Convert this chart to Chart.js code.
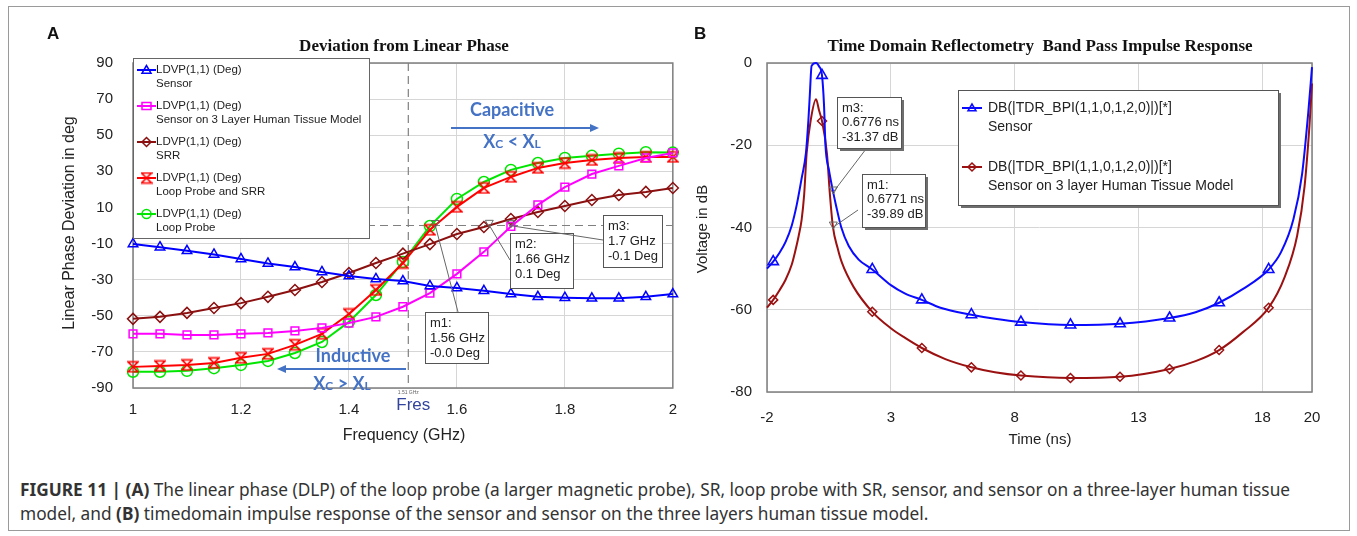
<!DOCTYPE html>
<html>
<head>
<meta charset="utf-8">
<title>Figure 11</title>
<script src="https://cdn.jsdelivr.net/npm/chart.js@4.4.1/dist/chart.umd.min.js"></script>
<style>
  body { margin: 0; background: #fff; font-family: "Liberation Sans", Arial, sans-serif; }
  #frame { position: absolute; left: 8px; top: 6px; width: 1340px; height: 523px; border: 1px solid #9a9a9a; }
  .panel { position: absolute; font: bold 17px "Liberation Sans", Arial, sans-serif; color: #111; }
  .wrap { position: absolute; top: 0; }
  #caption { position: absolute; left: 20px; top: 478px; font-family: "Noto Sans", sans-serif; font-size: 17.3px; line-height: 24px; color: #333; white-space: nowrap; }
</style>
</head>
<body>
<div id="frame"></div>
<div class="wrap" style="left:0px"><canvas id="chartA" width="690" height="450"></canvas></div>
<div class="wrap" style="left:690px"><canvas id="chartB" width="667" height="450"></canvas></div>
<div class="panel" style="left:47px;top:24px">A</div>
<div class="panel" style="left:694px;top:24px">B</div>
<div id="caption"><b>FIGURE 11 | (A)</b> The linear phase (DLP) of the loop probe (a larger magnetic probe), SR, loop probe with SR, sensor, and sensor on a three-layer human tissue<br>model, and <b>(B)</b> timedomain impulse response of the sensor and sensor on the three layers human tissue model.</div>

<script>
// ---------- panel A: deviation from linear phase ----------
var freqGHz = [1.00, 1.05, 1.10, 1.15, 1.20, 1.25, 1.30, 1.35, 1.40, 1.45, 1.50,
               1.55, 1.60, 1.65, 1.70, 1.75, 1.80, 1.85, 1.90, 1.95, 2.00];
var phaseSensor = [-10.2, -12, -14, -16, -18.5, -21, -23, -25.7, -28, -29.6, -30.8,
                   -33.5, -34.6, -36.2, -37.9, -39.5, -40, -40.3, -40.3, -39.5, -38];
var phaseSensorTissue = [-60, -60, -60.6, -60.6, -60, -59.5, -58.4, -56.7, -54, -50.6, -45,
                         -37.4, -26.8, -14.6, -0.5, 11.4, 21.3, 28.5, 33, 37.4, 40.2];
var phaseSrr = [-51.7, -50.6, -48.4, -45.7, -43, -39.5, -35.7, -31.3, -26.3, -20.8, -15.6,
                -10.3, -4.7, -0.8, 3.6, 7.5, 10.8, 14.1, 16.9, 18.6, 20.8];
var phaseLoopSrr = [-78.3, -77.8, -77.2, -76.1, -73.3, -71.1, -66.1, -60, -49, -35.7, -20.8,
                    -2.4, 10.3, 20.8, 26.9, 31.9, 34.6, 36.3, 37.4, 38, 38];
var phaseLoop = [-81, -81, -80.5, -79, -77.2, -75, -70.6, -64.5, -53.4, -38.5, -20.2,
                 -0.3, 14.7, 24.1, 30.8, 34.6, 37.4, 38.6, 39.8, 40.6, 40.4];
var freqTicks = [1, 1.2, 1.4, 1.6, 1.8, 2];
var phaseTicks = [-90, -70, -50, -30, -10, 10, 30, 50, 70, 90];
var fresGHz = 1.51;
var markerFreqA = [1.56, 1.66, 1.7];
var markerPhaseA = [0, 0.1, -0.1];
var markerTextA = [['m1:', '1.56 GHz', '-0.0 Deg'], ['m2:', '1.66 GHz', '0.1 Deg'], ['m3:', '1.7 GHz', '-0.1 Deg']];
var seriesNamesA = ['Sensor', 'Sensor on 3 Layer Human Tissue Model', 'SRR', 'Loop Probe and SRR', 'Loop Probe'];

// ---------- panel B: TDR band pass impulse response ----------
var sensorTimeNs = [-2, -1.75, -1.5, -1.25, -1, -0.8, -0.6, -0.43, -0.33, -0.27, -0.2, -0.02, 0.1, 0.22,
                    0.3, 0.36, 0.5, 0.65, 0.8, 1, 1.3, 1.7, 2.25, 3, 3.56, 4.25, 5, 6.25, 7.2, 8.25,
                    10.25, 12.25, 14.25, 15.3, 16.25, 17.2, 18.25, 18.75, 19.25, 19.6, 19.85, 20];
var sensorDb = [-50, -48.3, -46.2, -43.5, -39.5, -34.5, -28, -22, -14, -7.6, -0.7, 0, -0.8, -3,
                -10, -20, -26, -30.8, -35, -40, -44.5, -47.8, -50.2, -54, -56, -57.6, -59.5, -61.2, -62.2, -63,
                -63.7, -63.4, -62, -60.6, -58.3, -55, -50.2, -46, -38, -27, -12, -1];
var tissueTimeNs = [-2, -1.75, -1.5, -1.25, -1, -0.87, -0.72, -0.6, -0.5, -0.4, -0.23, -0.02, 0.1, 0.22,
                    0.42, 0.54, 0.66, 0.85, 1.02, 1.5, 2.25, 3, 3.56, 4.25, 5.2, 6.25, 7.2, 8.25,
                    10.25, 12.25, 14.25, 15.3, 16.25, 17.2, 18.25, 18.9, 19.4, 19.7, 19.9, 20];
var tissueDb = [-59.5, -57.6, -55.3, -52.7, -49, -46, -42, -38, -32, -22, -13.7, -8.8, -11.5, -14.1,
                -22, -32, -39.8, -45, -48.5, -54.5, -60.5, -64.5, -66.8, -69.3, -72, -74, -75.2, -76,
                -76.6, -76.3, -74.4, -72.5, -69.8, -65.5, -59.5, -52, -42, -30, -15, -5];
var markerTimesNs = [-1.75, 0.22, 2.25, 4.25, 6.25, 8.25, 10.25, 12.25, 14.25, 16.25, 18.25];
var timeTicks = [-2, 3, 8, 13, 18, 20];
var dbTicks = [-80, -60, -40, -20, 0];
var markerTimeB = [0.6776, 0.6771];
var markerDbB = [-31.37, -39.89];
var markerTextB = [['m3:', '0.6776 ns', '-31.37 dB'], ['m1:', '0.6771 ns', '-39.89 dB']];
var legendB = ['DB(|TDR_BPI(1,1,0,1,2,0)|)[*]', 'Sensor', 'DB(|TDR_BPI(1,1,0,1,2,0)|)[*]', 'Sensor on 3 layer Human Tissue Model'];

var FONT = '"Liberation Sans", Arial, sans-serif';
Chart.defaults.font.family = FONT;
Chart.defaults.font.size = 15;
Chart.defaults.color = '#222';

function pairs(xs, ys) {
  return xs.map(function (x, i) { return { x: x, y: ys[i] }; });
}

// hourglass marker for the loop probe + SRR curve
var hourglass = (function () {
  var c = document.createElement('canvas');
  c.width = 12; c.height = 13;
  var g = c.getContext('2d');
  g.strokeStyle = '#ff0000';
  g.lineWidth = 1.6;
  g.beginPath();
  g.moveTo(1, 1.5); g.lineTo(11, 1.5); g.lineTo(1, 11.5); g.lineTo(11, 11.5); g.closePath();
  g.stroke();
  return c;
})();

function drawSym(ctx, style, x, y, r, color) {
  ctx.save();
  ctx.strokeStyle = color;
  ctx.lineWidth = 1.5;
  ctx.beginPath();
  if (style === 'triangle') {
    ctx.moveTo(x, y - r); ctx.lineTo(x - r, y + r * 0.7); ctx.lineTo(x + r, y + r * 0.7); ctx.closePath();
  } else if (style === 'rect') {
    ctx.rect(x - r, y - r * 0.8, 2 * r, 1.6 * r);
  } else if (style === 'rectRot') {
    ctx.moveTo(x, y - r); ctx.lineTo(x + r, y); ctx.lineTo(x, y + r); ctx.lineTo(x - r, y); ctx.closePath();
  } else if (style === 'circle') {
    ctx.arc(x, y, r, 0, Math.PI * 2);
  }
  ctx.stroke();
  if (style === 'hourglass') ctx.drawImage(hourglass, x - 6, y - 6.5);
  ctx.restore();
}

function downMarker(ctx, x, y) {
  ctx.save();
  ctx.strokeStyle = '#666';
  ctx.lineWidth = 1;
  ctx.beginPath();
  ctx.moveTo(x - 4, y - 5); ctx.lineTo(x + 4, y - 5); ctx.lineTo(x, y + 2); ctx.closePath();
  ctx.stroke();
  ctx.restore();
}

function infoBox(ctx, x, y, w, h, lines, lh, shadow) {
  ctx.save();
  if (shadow) { ctx.fillStyle = '#6e6e6e'; ctx.fillRect(x + 3, y + 3, w, h); }
  ctx.fillStyle = '#fff';
  ctx.fillRect(x, y, w, h);
  ctx.strokeStyle = '#555';
  ctx.lineWidth = 1;
  ctx.strokeRect(x + 0.5, y + 0.5, w, h);
  ctx.fillStyle = '#222';
  ctx.font = '13px ' + FONT;
  ctx.textAlign = 'left';
  ctx.textBaseline = 'middle';
  lines.forEach(function (s, i) { ctx.fillText(s, x + 5, y + 11 + i * lh); });
  ctx.restore();
}

function leader(ctx, x1, y1, x2, y2) {
  ctx.save();
  ctx.strokeStyle = '#666';
  ctx.lineWidth = 1;
  ctx.beginPath(); ctx.moveTo(x1, y1); ctx.lineTo(x2, y2); ctx.stroke();
  ctx.restore();
}

function frame(chart) {
  var a = chart.chartArea, ctx = chart.ctx;
  ctx.save();
  ctx.strokeStyle = '#7f7f7f';
  ctx.lineWidth = 1.5;
  ctx.strokeRect(a.left, a.top, a.right - a.left, a.bottom - a.top);
  ctx.restore();
}

function rotText(ctx, s, x, y, font) {
  ctx.save();
  ctx.translate(x, y);
  ctx.rotate(-Math.PI / 2);
  ctx.font = font;
  ctx.fillStyle = '#222';
  ctx.textAlign = 'center';
  ctx.textBaseline = 'middle';
  ctx.fillText(s, 0, 0);
  ctx.restore();
}

// "Xc < XL" style text with small-cap subscripts
function mixText(ctx, parts, cx, y, color) {
  ctx.save();
  ctx.fillStyle = color;
  ctx.textBaseline = 'alphabetic';
  ctx.textAlign = 'left';
  var w = 0;
  parts.forEach(function (p) { ctx.font = p[1]; w += ctx.measureText(p[0]).width; });
  var x = cx - w / 2;
  parts.forEach(function (p) { ctx.font = p[1]; ctx.fillText(p[0], x, y); x += ctx.measureText(p[0]).width; });
  ctx.restore();
}

function arrow(ctx, x1, x2, y, color) {
  var d = x2 > x1 ? 1 : -1;
  ctx.save();
  ctx.strokeStyle = color; ctx.fillStyle = color; ctx.lineWidth = 2;
  ctx.beginPath(); ctx.moveTo(x1, y); ctx.lineTo(x2 - d * 6, y); ctx.stroke();
  ctx.beginPath(); ctx.moveTo(x2, y); ctx.lineTo(x2 - d * 9, y - 4); ctx.lineTo(x2 - d * 9, y + 4); ctx.closePath(); ctx.fill();
  ctx.restore();
}

var colorsA = ['#0000ff', '#ff00ff', '#8b1010', '#ff0000', '#00e600'];
var stylesA = ['triangle', 'rect', 'rectRot', hourglass, 'circle'];
var symNamesA = ['triangle', 'rect', 'rectRot', 'hourglass', 'circle'];
var valuesA = [phaseSensor, phaseSensorTissue, phaseSrr, phaseLoopSrr, phaseLoop];

var overlayA = {
  id: 'overlayA',
  beforeDatasetsDraw: function (chart) {
    var ctx = chart.ctx, a = chart.chartArea, xs = chart.scales.x, ys = chart.scales.y;
    frame(chart);
    ctx.save();
    ctx.strokeStyle = '#808080';
    ctx.lineWidth = 1.2;
    ctx.setLineDash([8, 5]);
    var y0 = ys.getPixelForValue(0), xf = xs.getPixelForValue(fresGHz);
    ctx.beginPath(); ctx.moveTo(a.left, y0); ctx.lineTo(a.right, y0); ctx.stroke();
    ctx.beginPath(); ctx.moveTo(xf, a.top); ctx.lineTo(xf, a.bottom); ctx.stroke();
    ctx.restore();
  },
  afterDatasetsDraw: function (chart) {
    var ctx = chart.ctx, xs = chart.scales.x, ys = chart.scales.y;
    // title and axis titles
    ctx.save();
    ctx.fillStyle = '#111';
    ctx.textAlign = 'center';
    ctx.textBaseline = 'middle';
    ctx.font = 'bold 17px "Liberation Serif", serif';
    ctx.fillText('Deviation from Linear Phase', 404, 47);
    ctx.font = '16px ' + FONT;
    ctx.fillStyle = '#222';
    ctx.fillText('Frequency (GHz)', 404, 436);
    ctx.restore();
    rotText(ctx, 'Linear Phase Deviation in deg', 70, 223, '16px ' + FONT);

    // Fres label
    var xf = xs.getPixelForValue(fresGHz);
    ctx.save();
    ctx.textAlign = 'center'; ctx.textBaseline = 'middle';
    ctx.font = '5px ' + FONT; ctx.fillStyle = '#666';
    ctx.fillText('1.51 GHz', xf, 393);
    ctx.font = '17px ' + FONT; ctx.fillStyle = '#33449e';
    ctx.fillText('Fres', xf + 5, 405);
    ctx.restore();

    // capacitive / inductive notes
    var blue = '#4472c4';
    ctx.save();
    ctx.fillStyle = blue; ctx.textAlign = 'center'; ctx.textBaseline = 'middle';
    ctx.font = 'bold 18px Lato, ' + FONT;
    ctx.fillText('Capacitive', 512, 110);
    ctx.fillText('Inductive', 353, 356);
    ctx.restore();
    arrow(ctx, 451, 599, 128, blue);
    arrow(ctx, 406, 277, 369, blue);
    var big = 'bold 18px Lato, ' + FONT, small = 'bold 12px Lato, ' + FONT;
    mixText(ctx, [['X', big], ['C', small], [' < X', big], ['L', small]], 512, 148, blue);
    mixText(ctx, [['X', big], ['C', small], [' > X', big], ['L', small]], 342, 390, blue);

    // marker readouts
    var boxes = [[425, 312, 63, 51, 458, 312], [510, 233, 63, 55, 510, 260], [603, 215, 59, 52, 603, 240]];
    markerFreqA.forEach(function (f, i) {
      var px = xs.getPixelForValue(f), py = ys.getPixelForValue(markerPhaseA[i]);
      var b = boxes[i];
      leader(ctx, b[4], b[5], px, py);
      downMarker(ctx, px, py);
      infoBox(ctx, b[0], b[1], b[2], b[3], markerTextA[i], 15, false);
    });

    // legend
    ctx.save();
    ctx.fillStyle = '#fff';
    ctx.fillRect(133, 58, 236, 180);
    ctx.strokeStyle = '#666'; ctx.lineWidth = 1;
    ctx.strokeRect(133.5, 58.5, 236, 180);
    ctx.font = '11.5px ' + FONT;
    ctx.fillStyle = '#222';
    ctx.textAlign = 'left'; ctx.textBaseline = 'middle';
    seriesNamesA.forEach(function (name, i) {
      var y = 70 + i * 36;
      ctx.strokeStyle = colorsA[i]; ctx.lineWidth = 2;
      ctx.beginPath(); ctx.moveTo(137, y); ctx.lineTo(156, y); ctx.stroke();
      drawSym(ctx, symNamesA[i], 146.5, y, 4.5, colorsA[i]);
      ctx.fillStyle = '#222';
      ctx.fillText('LDVP(1,1) (Deg)', 156, y);
      ctx.fillText(name, 156, y + 14);
    });
    ctx.restore();
  }
};

new Chart(document.getElementById('chartA'), {
  type: 'line',
  data: {
    datasets: valuesA.map(function (vals, i) {
      return {
        label: seriesNamesA[i],
        data: pairs(freqGHz, vals),
        borderColor: colorsA[i],
        backgroundColor: 'rgba(0,0,0,0)',
        borderWidth: 2,
        pointStyle: stylesA[i],
        pointRadius: 5.5,
        pointBorderWidth: 1.5,
        pointBorderColor: colorsA[i],
        pointBackgroundColor: 'rgba(0,0,0,0)',
        tension: 0,
        clip: false
      };
    })
  },
  options: {
    responsive: false,
    animation: false,
    events: [],
    layout: { autoPadding: false, padding: { left: 0, right: 14, top: 63, bottom: 0 } },
    plugins: { legend: { display: false }, tooltip: { enabled: false } },
    scales: {
      x: {
        type: 'linear', min: 1, max: 2,
        afterBuildTicks: function (s) { s.ticks = freqTicks.map(function (v) { return { value: v }; }); },
        afterFit: function (s) { s.height = 62; },
        ticks: { padding: 13, maxRotation: 0, callback: function (v) { return String(+v.toFixed(2)); } },
        grid: { color: '#d6d6d6', lineWidth: 1, drawTicks: false },
        border: { display: false }
      },
      y: {
        type: 'linear', min: -90, max: 90,
        afterBuildTicks: function (s) { s.ticks = phaseTicks.map(function (v) { return { value: v }; }); },
        afterFit: function (s) { s.width = 133; },
        ticks: { padding: 20 },
        grid: { color: '#d6d6d6', lineWidth: 1, drawTicks: false },
        border: { display: false }
      }
    }
  },
  plugins: [overlayA]
});

var colorsB = ['#0a0aff', '#9b1111'];

var overlayB = {
  id: 'overlayB',
  beforeDatasetsDraw: function (chart) { frame(chart); },
  afterDatasetsDraw: function (chart) {
    var ctx = chart.ctx, xs = chart.scales.x, ys = chart.scales.y;
    ctx.save();
    ctx.fillStyle = '#111';
    ctx.textAlign = 'center'; ctx.textBaseline = 'middle';
    ctx.font = 'bold 17px "Liberation Serif", serif';
    ctx.fillText('Time Domain Reflectometry  Band Pass Impulse Response', 350, 47);
    ctx.font = '15px ' + FONT;
    ctx.fillStyle = '#222';
    ctx.fillText('Time (ns)', 350, 440);
    ctx.restore();
    rotText(ctx, 'Voltage in dB', 13, 229, '15px ' + FONT);

    var boxes = [[147, 97, 64, 51, 176, 149], [172, 174, 63, 53, 168, 210]];
    markerTimeB.forEach(function (t, i) {
      var px = xs.getPixelForValue(t), py = ys.getPixelForValue(markerDbB[i]);
      var b = boxes[i];
      leader(ctx, b[4], b[5], px, py);
      downMarker(ctx, px, py);
      infoBox(ctx, b[0], b[1], b[2], b[3], markerTextB[i], 14.5, true);
    });

    // legend
    ctx.save();
    ctx.fillStyle = '#6e6e6e';
    ctx.fillRect(271, 93, 320, 115);
    ctx.fillStyle = '#fff';
    ctx.fillRect(268, 90, 320, 115);
    ctx.strokeStyle = '#555'; ctx.lineWidth = 1;
    ctx.strokeRect(268.5, 90.5, 320, 115);
    ctx.font = '14px ' + FONT;
    ctx.textAlign = 'left'; ctx.textBaseline = 'middle';
    [0, 1].forEach(function (i) {
      var y = 108 + i * 59;
      ctx.strokeStyle = colorsB[i]; ctx.lineWidth = 2;
      ctx.beginPath(); ctx.moveTo(272, y); ctx.lineTo(292, y); ctx.stroke();
      drawSym(ctx, i === 0 ? 'triangle' : 'rectRot', 282, y, 4, colorsB[i]);
      ctx.fillStyle = '#222';
      ctx.fillText(legendB[i * 2], 298, y);
      ctx.fillText(legendB[i * 2 + 1], 298, y + 19);
    });
    ctx.restore();
  }
};

function markerRadius(r) {
  return function (c) {
    var p = c.raw;
    return p && markerTimesNs.indexOf(p.x) >= 0 ? r : 0;
  };
}

new Chart(document.getElementById('chartB'), {
  type: 'line',
  data: {
    datasets: [
      {
        label: 'Sensor',
        data: pairs(sensorTimeNs, sensorDb),
        borderColor: colorsB[0], borderWidth: 2,
        pointStyle: 'triangle', pointRadius: markerRadius(6), pointBorderWidth: 1.6,
        pointBorderColor: colorsB[0], pointBackgroundColor: 'rgba(0,0,0,0)',
        cubicInterpolationMode: 'monotone', clip: false
      },
      {
        label: 'Sensor on 3 layer Human Tissue Model',
        data: pairs(tissueTimeNs, tissueDb),
        borderColor: colorsB[1], borderWidth: 2,
        pointStyle: 'rectRot', pointRadius: markerRadius(4.5), pointBorderWidth: 1.5,
        pointBorderColor: colorsB[1], pointBackgroundColor: 'rgba(0,0,0,0)',
        cubicInterpolationMode: 'monotone', clip: false
      }
    ]
  },
  options: {
    responsive: false,
    animation: false,
    events: [],
    layout: { autoPadding: false, padding: { left: 0, right: 45, top: 63, bottom: 0 } },
    plugins: { legend: { display: false }, tooltip: { enabled: false } },
    scales: {
      x: {
        type: 'linear', min: -2, max: 20,
        afterBuildTicks: function (s) { s.ticks = timeTicks.map(function (v) { return { value: v }; }); },
        afterFit: function (s) { s.height = 58; },
        ticks: { padding: 17, maxRotation: 0 },
        grid: { color: '#d6d6d6', lineWidth: 1, drawTicks: false },
        border: { display: false }
      },
      y: {
        type: 'linear', min: -80, max: 0,
        afterBuildTicks: function (s) { s.ticks = dbTicks.map(function (v) { return { value: v }; }); },
        afterFit: function (s) { s.width = 77; },
        ticks: { padding: 15 },
        grid: { color: '#d6d6d6', lineWidth: 1, drawTicks: false },
        border: { display: false }
      }
    }
  },
  plugins: [overlayB]
});
</script>
</body>
</html>
